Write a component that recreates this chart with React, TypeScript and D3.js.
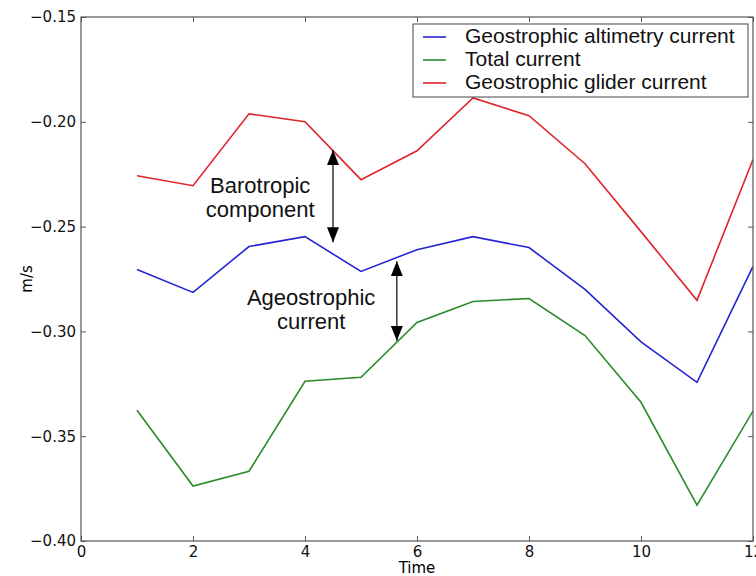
import React, { useEffect, useRef } from "react";
import * as d3 from "d3";

const MARGIN = { TOP: 17, BOTTOM: 35, LEFT: 81, RIGHT: 3 };
const W = 756;
const H = 576;
const WIDTH = W - MARGIN.LEFT - MARGIN.RIGHT;
const HEIGHT = H - MARGIN.TOP - MARGIN.BOTTOM;

const times = [1, 2, 3, 4, 5, 6, 7, 8, 9, 10, 11, 12];
const altimetry = [-0.2705, -0.2814, -0.2595, -0.2548, -0.2714, -0.261, -0.2548, -0.26, -0.28, -0.305, -0.3243, -0.269];
const total = [-0.3376, -0.3738, -0.3667, -0.3238, -0.3219, -0.2957, -0.2857, -0.2843, -0.302, -0.3338, -0.3829, -0.338];
const glider = [-0.2257, -0.2305, -0.1962, -0.2, -0.2276, -0.2138, -0.1886, -0.1971, -0.22, -0.2524, -0.2852, -0.218];

const seriesNames = ["Geostrophic altimetry current", "Total current", "Geostrophic glider current"];
const seriesColors = ["#2424d4", "#2a8a2a", "#e0242c"];

const xTicks = [0, 2, 4, 6, 8, 10, 12];
const yTicks = [-0.4, -0.35, -0.3, -0.25, -0.2, -0.15];

// double arrows in data units, with their text labels
const arrows = [
  { x: 4.5, y0: -0.2135, y1: -0.2575, label: ["Barotropic", "component"], lx: 3.2, ly: -0.234 },
  { x: 5.64, y0: -0.2665, y1: -0.3045, label: ["Ageostrophic", "current"], lx: 4.11, ly: -0.2874 },
];

const FONT = "'Liberation Sans', Arial, sans-serif";
const AXFONT = "'DejaVu Sans', sans-serif";

export default function App() {
  const ref = useRef<SVGSVGElement | null>(null);

  useEffect(() => {
    const svgEl = d3.select(ref.current);
    svgEl.selectAll("*").remove();

    const x = d3.scaleLinear().domain([0, 12]).range([0, WIDTH]);
    const y = d3.scaleLinear().domain([-0.4, -0.15]).range([HEIGHT, 0]);

    const defs = svgEl.append("defs");
    defs
      .append("clipPath")
      .attr("id", "plotclip")
      .append("rect")
      .attr("width", WIDTH)
      .attr("height", HEIGHT);
    defs
      .append("marker")
      .attr("id", "head")
      .attr("viewBox", "0 0 15 12")
      .attr("refX", 15)
      .attr("refY", 6)
      .attr("markerWidth", 15)
      .attr("markerHeight", 12)
      .attr("markerUnits", "userSpaceOnUse")
      .attr("orient", "auto-start-reverse")
      .append("path")
      .attr("d", "M0,0 L15,6 L0,12 Z")
      .attr("fill", "#000");

    const svg = svgEl.append("g").attr("transform", `translate(${MARGIN.LEFT},${MARGIN.TOP})`);

    const line = d3
      .line<number>()
      .x((_, i) => x(times[i]))
      .y((d) => y(d));

    const plot = svg.append("g").attr("clip-path", "url(#plotclip)");
    [altimetry, total, glider].forEach((s, i) => {
      plot
        .append("path")
        .datum(s)
        .attr("d", line)
        .attr("fill", "none")
        .attr("stroke", seriesColors[i])
        .attr("stroke-width", 1.6);
    });

    // axes, ticks pointing inward like old matplotlib
    const styleAxis = (g: any) => {
      g.select(".domain").remove();
      g.selectAll(".tick line").attr("stroke", "#555");
      g.selectAll("text").attr("font-family", AXFONT).attr("font-size", 15).attr("fill", "#111");
    };
    const fmtY = (d: any) => d3.format(".2f")(d).replace("-", "\u2212");
    svg
      .append("g")
      .attr("transform", `translate(0,${HEIGHT})`)
      .call(d3.axisBottom(x).tickValues(xTicks).tickSize(-5).tickPadding(5).tickFormat(d3.format("d")))
      .call(styleAxis);
    svg
      .append("g")
      .call(d3.axisTop(x).tickValues(xTicks).tickSize(-5).tickFormat(() => ""))
      .call(styleAxis);
    svg
      .append("g")
      .call(d3.axisLeft(y).tickValues(yTicks).tickSize(-5).tickPadding(5).tickFormat(fmtY))
      .call(styleAxis);
    svg
      .append("g")
      .attr("transform", `translate(${WIDTH},0)`)
      .call(d3.axisRight(y).tickValues(yTicks).tickSize(-5).tickFormat(() => ""))
      .call(styleAxis);

    svg
      .append("rect")
      .attr("width", WIDTH)
      .attr("height", HEIGHT)
      .attr("fill", "none")
      .attr("stroke", "#555")
      .attr("stroke-width", 1.2);

    svg
      .append("text")
      .attr("x", WIDTH / 2)
      .attr("y", HEIGHT + 32)
      .attr("text-anchor", "middle")
      .attr("font-family", AXFONT)
      .attr("font-size", 15)
      .text("Time");
    svg
      .append("text")
      .attr("transform", `translate(-49,${HEIGHT / 2}) rotate(-90)`)
      .attr("text-anchor", "middle")
      .attr("font-family", AXFONT)
      .attr("font-size", 15)
      .text("m/s");

    // annotations
    arrows.forEach((a) => {
      svg
        .append("line")
        .attr("x1", x(a.x))
        .attr("x2", x(a.x))
        .attr("y1", y(a.y0))
        .attr("y2", y(a.y1))
        .attr("stroke", "#000")
        .attr("stroke-width", 1.2)
        .attr("marker-start", "url(#head)")
        .attr("marker-end", "url(#head)");
      const t = svg
        .append("text")
        .attr("text-anchor", "middle")
        .attr("font-family", FONT)
        .attr("font-size", 22)
        .attr("fill", "#111");
      a.label.forEach((l, i) => {
        t.append("tspan")
          .attr("x", x(a.lx))
          .attr("y", y(a.ly) + i * 24)
          .text(l);
      });
    });

    // legend
    const lg = svg.append("g").attr("transform", `translate(${413 - MARGIN.LEFT},${24 - MARGIN.TOP})`);
    lg.append("rect")
      .attr("width", 335)
      .attr("height", 73)
      .attr("fill", "#fff")
      .attr("stroke", "#444")
      .attr("stroke-width", 1);
    seriesNames.forEach((n, i) => {
      const base = 19 + i * 23;
      lg.append("line")
        .attr("x1", 10)
        .attr("x2", 33)
        .attr("y1", base - 6)
        .attr("y2", base - 6)
        .attr("stroke", seriesColors[i])
        .attr("stroke-width", 1.6);
      lg.append("text")
        .attr("x", 52)
        .attr("y", base)
        .attr("font-family", FONT)
        .attr("font-size", 21)
        .attr("fill", "#111")
        .text(n);
    });
  }, []);

  return (
    <div style={{ position: "absolute", left: 0, top: 0 }}>
      <svg ref={ref} width={W} height={H} style={{ display: "block", background: "#fff" }} />
    </div>
  );
}
